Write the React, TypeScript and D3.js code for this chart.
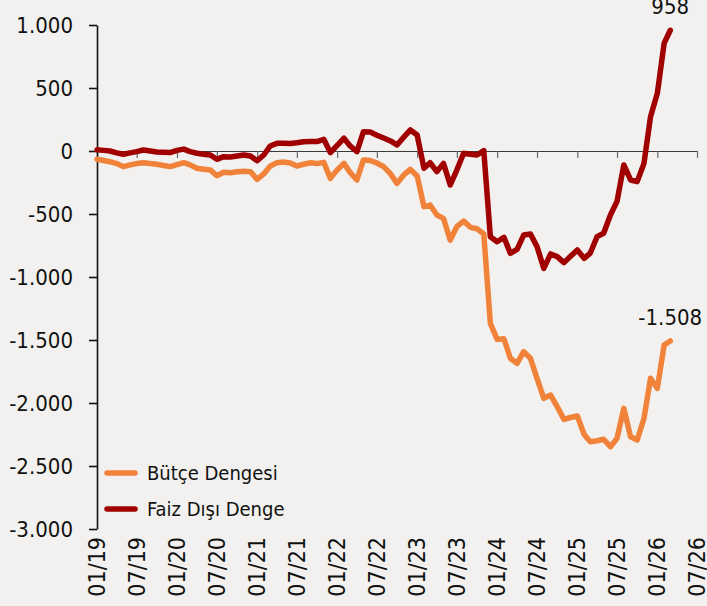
import React, { useEffect, useRef } from 'react';
import * as d3 from 'd3';

// monthly values, starting 01/2019
const butceDengesi = [
  -66, -75, -85, -100, -124, -110, -100, -93, -100, -105, -115, -124,
  -108, -93, -110, -137, -145, -150, -196, -169, -172, -164, -160, -164,
  -225, -180, -120, -93, -88, -95, -119, -105, -93, -100, -90, -217,
  -150, -98, -170, -230, -71, -75, -95, -124, -180, -257, -190, -146,
  -198, -442, -429, -508, -535, -707, -601, -556, -606, -617, -659, -1368,
  -1495, -1490, -1645, -1685, -1593, -1645, -1804, -1963, -1937, -2029, -2130, -2115,
  -2103, -2250, -2307, -2300, -2288, -2347, -2281, -2043, -2268, -2294, -2122, -1804,
  -1884, -1540, -1508,
];

const faizDisiDenge = [
  10, 5, 0, -15, -26, -15, -5, 8, 0, -8, -10, -12,
  5, 15, -5, -18, -25, -32, -66, -45, -48, -40, -32, -40,
  -77, -30, 40, 61, 62, 60, 65, 74, 76, 75, 93, -13,
  45, 101, 40, -5, 153, 150, 125, 103, 80, 48, 110, 167,
  127, -137, -93, -164, -98, -270, -151, -18, -25, -32, 3, -680,
  -720, -685, -812, -780, -667, -659, -759, -931, -817, -838, -886, -836,
  -786, -852, -810, -680, -653, -508, -400, -111, -230, -243, -98, 272,
  458, 855, 958,
];

const seriesNames = ['Bütçe Dengesi', 'Faiz Dışı Denge'];
const seriesColors = ['#F0823A', '#A00000'];
const yTicks = [1000, 500, 0, -500, -1000, -1500, -2000, -2500, -3000];
const xTickLabels = [
  '01/19', '07/19', '01/20', '07/20', '01/21', '07/21', '01/22', '07/22',
  '01/23', '07/23', '01/24', '07/24', '01/25', '07/25', '01/26', '07/26',
];

const W = 707;
const H = 606;
const FONT = '"DejaVu Sans Condensed", "DejaVu Sans", sans-serif';

const trLocale = d3.formatLocale({
  decimal: ',',
  thousands: '.',
  grouping: [3],
  currency: ['', ' TL'],
  minus: '-',
});
const fmt = trLocale.format(',d');

const App = () => {
  const ref = useRef<SVGSVGElement>(null);

  useEffect(() => {
    const svg = d3.select(ref.current);
    svg.selectAll('*').remove();

    const parseLabel = (s: string) => {
      const [m, y] = s.split('/').map(Number);
      return new Date(Date.UTC(2000 + y, m - 1, 1));
    };
    const start = parseLabel(xTickLabels[0]);
    const end = parseLabel(xTickLabels[xTickLabels.length - 1]);

    const x = d3.scaleUtc().domain([start, end]).range([97, 697]);
    const y = d3.scaleLinear().domain([-3000, 1000]).range([529, 25]);

    svg.append('rect').attr('width', W).attr('height', H).attr('fill', '#F2F1EF');

    // x axis on the zero line
    const xAxis = svg
      .append('g')
      .attr('transform', `translate(0,${y(0)})`)
      .call(
        d3
          .axisBottom(x)
          .tickValues(xTickLabels.map(parseLabel))
          .tickSize(7)
          .tickSizeOuter(0)
          .tickFormat(() => ''),
      );
    xAxis.select('.domain').attr('stroke', '#3a3a3a').attr('stroke-width', 1.2);
    xAxis.selectAll('.tick line').attr('stroke', '#666').attr('stroke-width', 1.2);

    // x labels at the bottom, rotated
    svg
      .append('g')
      .selectAll('text')
      .data(xTickLabels)
      .join('text')
      .attr('transform', (d) => `translate(${x(parseLabel(d))},537) rotate(-90)`)
      .attr('text-anchor', 'end')
      .attr('dominant-baseline', 'central')
      .attr('font-family', FONT)
      .attr('font-size', 23)
      .attr('fill', '#111')
      .text((d) => d);

    // y axis
    const yAxis = svg
      .append('g')
      .attr('transform', `translate(97,0)`)
      .call(
        d3
          .axisLeft(y)
          .tickValues(yTicks)
          .tickSize(8)
          .tickSizeOuter(0)
          .tickPadding(16)
          .tickFormat((d) => fmt(d as number)),
      );
    yAxis.select('.domain').attr('stroke', '#111').attr('stroke-width', 1.6);
    yAxis.selectAll('.tick line').attr('stroke', '#111').attr('stroke-width', 1.6);
    yAxis
      .selectAll('.tick text')
      .attr('font-family', FONT)
      .attr('font-size', 22)
      .attr('fill', '#111');

    const dateOf = (i: number) => d3.utcMonth.offset(start, i);
    const line = d3
      .line<number>()
      .x((_, i) => x(dateOf(i)))
      .y((d) => y(d));

    [butceDengesi, faizDisiDenge].forEach((vals, k) => {
      svg
        .append('path')
        .attr('d', line(vals))
        .attr('fill', 'none')
        .attr('stroke', seriesColors[k])
        .attr('stroke-width', 5.5)
        .attr('stroke-linejoin', 'round')
        .attr('stroke-linecap', 'round');

      const last = vals.length - 1;
      svg
        .append('text')
        .attr('x', x(dateOf(last)))
        .attr('y', y(vals[last]) - 16)
        .attr('text-anchor', 'middle')
        .attr('font-family', FONT)
        .attr('font-size', 22)
        .attr('fill', '#111')
        .text(fmt(vals[last]));
    });

    // legend
    const legend = svg
      .append('g')
      .selectAll('g')
      .data(seriesNames)
      .join('g')
      .attr('transform', (_, i) => `translate(107,${473 + i * 36})`);
    legend
      .append('line')
      .attr('x1', 0)
      .attr('x2', 28)
      .attr('stroke', (_, i) => seriesColors[i])
      .attr('stroke-width', 5.5)
      .attr('stroke-linecap', 'round');
    legend
      .append('text')
      .attr('x', 40)
      .attr('dominant-baseline', 'central')
      .attr('font-family', FONT)
      .attr('font-size', 20)
      .attr('fill', '#111')
      .text((d) => d);
  }, []);

  return (
    <svg
      ref={ref}
      width={W}
      height={H}
      style={{ position: 'absolute', left: 0, top: 0, display: 'block' }}
    />
  );
};

export default App;
